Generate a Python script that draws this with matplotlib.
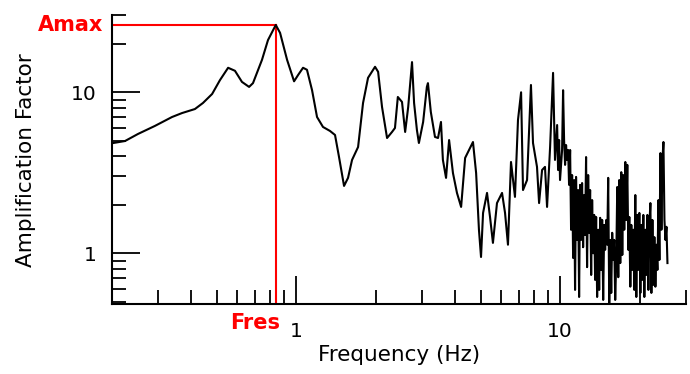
import numpy as np
import matplotlib
matplotlib.use("Agg")
import matplotlib.pyplot as plt
from matplotlib.ticker import LogLocator, NullFormatter

# curva de amplificacion (parte baja, suave)
freq_lo = [0.203, 0.225, 0.252, 0.292, 0.339, 0.370, 0.414, 0.444, 0.481, 0.515,
           0.553, 0.587, 0.624, 0.664, 0.687, 0.743, 0.783, 0.838, 0.870, 0.925,
           0.983, 1.018, 1.063, 1.10, 1.150, 1.201, 1.265, 1.345, 1.405, 1.455,
           1.52, 1.574, 1.63, 1.718, 1.794, 1.874, 1.992, 2.046, 2.117, 2.212,
           2.31, 2.37, 2.43, 2.52, 2.59, 2.66, 2.75, 2.80, 2.87, 2.92,
           3.03, 3.13, 3.16, 3.24, 3.36, 3.45, 3.54, 3.60, 3.70, 3.80,
           3.93, 4.07, 4.22, 4.37, 4.52, 4.68, 4.81, 4.93, 5.02, 5.11,
           5.29, 5.43, 5.57, 5.77, 6.03, 6.19, 6.35, 6.52, 6.75, 6.93,
           7.12, 7.24, 7.50, 7.76, 7.90, 8.18, 8.33, 8.55, 8.77, 8.93,
           9.17, 9.41]
amp_lo = [4.84, 4.98, 5.51, 6.18, 7.02, 7.43, 7.87, 8.58, 9.76, 11.9,
          14.2, 13.6, 11.6, 10.8, 11.4, 15.9, 21.1, 26.2, 23.4, 15.9,
          11.7, 12.8, 14.2, 13.8, 10.3, 7.02, 6.09, 5.75, 5.43, 3.96,
          2.62, 2.94, 3.80, 4.57, 8.58, 12.3, 14.4, 13.4, 8.11, 5.20,
          5.67, 6.00, 9.35, 8.71, 5.67, 8.11, 15.4, 8.58, 5.83, 4.84,
          6.54, 10.8, 11.4, 7.55, 5.28, 5.20, 6.54, 3.80, 2.94, 5.05,
          3.15, 2.37, 1.94, 3.91, 4.38, 4.91, 3.15, 1.40, 0.948, 1.78,
          2.37, 1.68, 1.16, 2.05, 2.37, 1.78, 1.13, 3.69, 2.24, 6.73,
          10.0, 2.47, 2.85, 11.1, 4.84, 3.44, 2.05, 3.29, 3.44, 1.94,
          4.57, 13.2]

# parte alta (> 9.5 Hz), muy ruidosa
freq_hi = [9.57, 9.75, 9.83, 9.92, 10.0, 10.18, 10.27, 10.36, 10.45, 10.54,
           10.63, 10.73, 10.82, 10.92, 11.01, 11.11, 11.21, 11.31, 11.40, 11.50,
           11.61, 11.71, 11.81, 11.91, 12.02, 12.12, 12.23, 12.34, 12.44, 12.55,
           12.66, 12.78, 12.89, 13.00, 13.12, 13.23, 13.35, 13.47, 13.58, 13.70,
           13.82, 13.94, 14.07, 14.19, 14.32, 14.44, 14.57, 14.70, 14.82, 14.96,
           15.09, 15.22, 15.36, 15.49, 15.63, 15.76, 15.90, 16.04, 16.18, 16.33,
           16.47, 16.62, 16.76, 16.91, 17.06, 17.21, 17.36, 17.51, 17.67, 17.82,
           17.98, 18.14, 18.30, 18.46, 18.62, 18.78, 18.95, 19.11, 19.28, 19.45,
           19.62, 19.80, 19.97, 20.15, 20.32, 20.50, 20.68, 20.86, 21.05, 21.23,
           21.42, 21.61, 21.80, 21.99, 22.18, 22.38, 22.58, 22.77, 22.97, 23.18,
           23.38, 23.59, 23.79, 24.00, 24.21, 24.43, 24.64, 24.86, 25.08, 25.30,
           25.52]
amp_hi = [3.80, 6.26, 3.29, 5.05, 2.85, 4.38, 10.3, 5.05, 3.54, 4.70,
          3.80, 4.38, 2.66, 4.38, 1.40, 3.06, 0.935, 2.85, 0.592, 2.98,
          1.21, 2.47, 0.535, 2.66, 1.21, 2.73, 1.09, 2.30, 1.30, 3.96,
          0.82, 3.06, 1.34, 2.47, 0.733, 2.14, 1.00, 1.73, 0.683, 1.68,
          0.535, 1.40, 0.592, 1.66, 0.788, 1.61, 0.513, 1.50, 1.05, 1.61,
          1.13, 2.94, 0.49, 1.21, 0.567, 1.34, 0.909, 1.21, 0.513, 0.909,
          2.58, 0.71, 2.85, 0.869, 3.19, 0.976, 3.06, 1.40, 3.69, 1.61,
          3.54, 1.05, 1.68, 0.62, 1.50, 0.788, 1.40, 0.592, 2.30, 0.535,
          1.73, 0.788, 1.78, 0.567, 1.50, 0.683, 1.73, 0.535, 1.40, 0.733,
          1.73, 0.592, 1.50, 2.05, 0.567, 1.61, 0.636, 1.26, 0.62, 1.13,
          0.788, 2.14, 0.909, 4.19, 1.40, 3.80, 4.91, 1.61, 1.21, 1.46,
          0.869]

fres = 0.838   # frecuencia de resonancia
amax = 26.2    # amplificacion maxima

freq = freq_lo + freq_hi
amp = amp_lo + amp_hi

fig = plt.figure(figsize=(6.9, 3.74), dpi=100)
ax = fig.add_axes([0.1616, 0.1872, 0.8326, 0.7714])

# lineas rojas Amax / Fres
ax.plot([0.2, fres], [amax, amax], color="red", lw=1.5, zorder=1)
ax.plot([fres, fres], [0.495, amax], color="red", lw=1.5, zorder=1)

ax.plot(freq, amp, color="black", lw=1.5, zorder=2)

ax.set_xscale("log")
ax.set_yscale("log")
ax.set_xlim(0.2, 30)
ax.set_ylim(0.484, 30)

ax.set_xticks([1, 10], ["1", "10"])
ax.set_yticks([1, 10], ["1", "10"])
for axis in (ax.xaxis, ax.yaxis):
    axis.set_minor_locator(LogLocator(base=10, subs=range(2, 10), numticks=20))
    axis.set_minor_formatter(NullFormatter())

ax.tick_params(which="major", direction="in", length=20, width=1.3,
               labelsize=14.5, color="black")
ax.tick_params(which="minor", direction="in", length=10, width=1.3)
ax.tick_params(axis="x", which="major", pad=13)
ax.tick_params(axis="y", which="major", pad=11)

for s in ["top", "right"]:
    ax.spines[s].set_visible(False)
for s in ["left", "bottom"]:
    ax.spines[s].set_linewidth(1.5)

ax.set_xlabel("Frequency (Hz)", fontsize=15.5, labelpad=3)
ax.set_ylabel("Amplification Factor", fontsize=15.5, labelpad=25)

ax.annotate("Amax", xy=(0, amax), xycoords=("axes fraction", "data"),
            xytext=(-8, 0), textcoords="offset pixels",
            ha="right", va="center", color="red", fontsize=15,
            fontweight="bold", annotation_clip=False)
ax.annotate("Fres", xy=(fres, 0), xycoords=("data", "axes fraction"),
            xytext=(4, -9), textcoords="offset pixels",
            ha="right", va="top", color="red", fontsize=15,
            fontweight="bold", annotation_clip=False)

fig.savefig("out.png", dpi=100)
